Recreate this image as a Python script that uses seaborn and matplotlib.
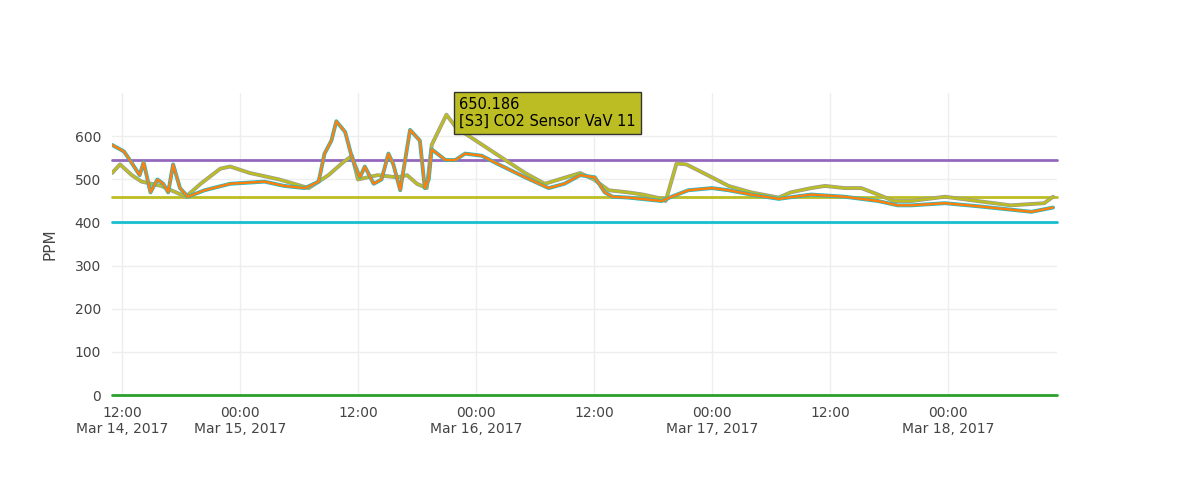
import matplotlib
matplotlib.use("Agg")
import matplotlib.pyplot as plt
import seaborn as sns
import pandas as pd

# hours since Mar 14, 2017 11:00
hours_a = [0, 1.2, 1.8, 2.8, 3.2, 3.9, 4.6, 5.2, 5.7, 6.2, 6.9, 7.7, 9.4, 12, 15.5, 17.5, 19.6, 21, 21.6, 22.3,
           22.8, 23.7, 24.4, 25.2, 25.7, 26.6, 27.4, 28.1, 28.6, 29.3, 30.3, 31.3, 31.8, 32.2, 32.5, 33.9, 34.9,
           35.9, 37.6, 39.3, 42, 44.4, 46, 47.6, 49.1, 50.1, 50.9, 52.5, 55.9, 56.9, 58.6, 61, 62.7, 65, 67.8, 69.4,
           71.1, 74.5, 77.9, 79.9, 81.3, 84.7, 88, 91.4, 93.5, 95.7]
orange = [580, 565, 545, 510, 540, 470, 500, 490, 470, 535, 480, 460, 475, 490, 495, 485, 480, 495, 560, 590,
          635, 610, 550, 505, 530, 490, 500, 560, 535, 475, 615, 590, 480, 500, 570, 545, 545,
          560, 555, 535, 505, 480, 490, 510, 505, 470, 460, 458, 450, 460, 475, 480, 475, 465, 455, 460,
          465, 460, 450, 440, 440, 445, 438, 430, 425, 435]
hours_b = [0, 0.8, 2, 3, 5, 7.5, 9, 11, 12, 14, 17, 20, 22, 23.5, 24.4, 25, 27, 29, 30, 31, 32, 32.5, 34, 35,
           37, 39, 42, 44, 47.6, 49, 50.5, 52.5, 54, 56, 56.3, 57.4, 58.4, 61, 62.7, 65, 67.8, 69, 71.1, 72.5,
           74.5, 76.2, 77.9, 79.5, 81.3, 84.7, 88, 91.4, 94.8, 95.7]
olive = [515, 535, 510, 495, 485, 460, 490, 525, 530, 515, 500, 480, 510, 540, 555, 500, 510, 505, 510, 490,
         480, 580, 650.186, 620, 590, 560, 515, 490, 515, 500, 475, 470, 465, 455, 450, 537, 535, 505, 485,
         470, 458, 470, 480, 485, 480, 480, 465, 450, 450, 460, 450, 440, 445, 460]
thresholds = [544, 459, 401, 0]
threshold_colors = ["#9467bd", "#bcbd22", "#17becf", "#2ca02c"]
tick_hours = [1, 13, 25, 37, 49, 61, 73, 85]
tick_labels = ["12:00\nMar 14, 2017", "00:00\nMar 15, 2017", "12:00", "00:00\nMar 16, 2017",
               "12:00", "00:00\nMar 17, 2017", "12:00", "00:00\nMar 18, 2017"]
y_ticks = [0, 100, 200, 300, 400, 500, 600]

sns.set_style("white")
fig = plt.figure(figsize=(11.93, 4.83), dpi=100)
ax = fig.add_axes([0.094, 0.182, 0.792, 0.625])
for v, c in zip(thresholds, threshold_colors):
    ax.axhline(v, color=c, lw=2, zorder=2, clip_on=False)
da = pd.DataFrame({"h": hours_a, "v": orange})
db = pd.DataFrame({"h": hours_b, "v": olive})
sns.lineplot(data=db, x="h", y="v", ax=ax, color="#9a9a9a", lw=2.8, zorder=3)
sns.lineplot(data=db, x="h", y="v", ax=ax, color="#bcbd22", lw=1.8, zorder=4)
sns.lineplot(data=da, x="h", y="v", ax=ax, color="#17becf", lw=2.8, zorder=5)
sns.lineplot(data=da, x="h", y="v", ax=ax, color="#ff7f0e", lw=1.8, zorder=6)
ax.set_xlim(0, 96.1)
ax.set_ylim(0, 700)
ax.set_xticks(tick_hours)
ax.set_xticklabels(tick_labels)
ax.set_yticks(y_ticks)
ax.grid(True, color="#eeeeee", lw=1)
ax.set_axisbelow(True)
for s in ax.spines.values():
    s.set_visible(False)
ax.tick_params(colors="#444444", labelsize=10, length=0, pad=8)
ax.set_xlabel("")
ax.set_ylabel("PPM", color="#444444", fontsize=11, labelpad=12)
ax.annotate("650.186\n[S3] CO2 Sensor VaV 11", xy=(34, 650.186), xytext=(35.3, 692),
            va="top", ha="left", fontsize=10.5, color="black",
            bbox=dict(boxstyle="square,pad=0.35", fc="#bcbd22", ec="#333333", lw=1),
            zorder=10, annotation_clip=False)
fig.savefig("out.png", dpi=100)
